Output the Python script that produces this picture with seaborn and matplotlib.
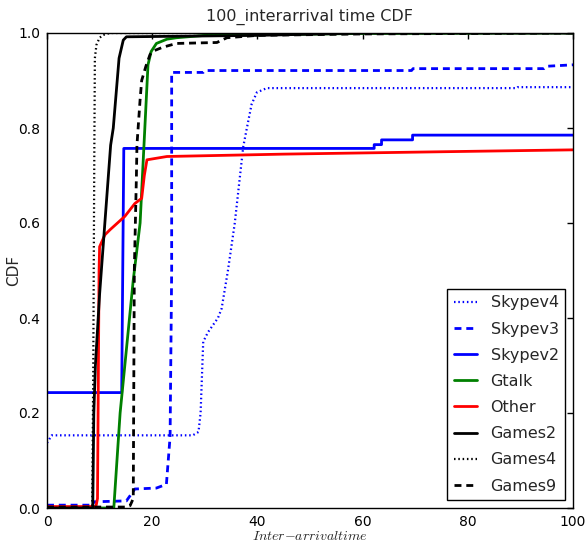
import numpy as np
import pandas as pd
import matplotlib
matplotlib.use("Agg")
import matplotlib.pyplot as plt
import seaborn as sns

# series
skypev4_x = [0, 0.9, 27.7, 28.8, 29.2, 29.7, 30.6, 32.5, 33.2, 34.4, 35.7, 36.7, 37.3, 38.0, 38.9, 39.9, 41.8, 89.3, 89.5, 100]
skypev4_y = [0.137, 0.153, 0.153, 0.16, 0.2, 0.35, 0.37, 0.40, 0.42, 0.5, 0.6, 0.7, 0.76, 0.8, 0.85, 0.875, 0.884, 0.884, 0.886, 0.886]

skypev3_x = [0, 8.8, 8.8, 15.1, 16.7, 20.8, 22.0, 22.7, 23.4, 23.7, 23.7, 29.7, 30.0, 69.3, 69.6, 94.5, 95.0, 100]
skypev3_y = [0.006, 0.006, 0.013, 0.015, 0.04, 0.042, 0.047, 0.05, 0.15, 0.5, 0.917, 0.917, 0.921, 0.921, 0.925, 0.925, 0.93, 0.933]

skypev2_x = [0, 14.2, 14.6, 62.2, 62.2, 63.6, 63.6, 69.5, 69.5, 100]
skypev2_y = [0.243, 0.243, 0.757, 0.757, 0.765, 0.765, 0.775, 0.775, 0.785, 0.785]

gtalk_x = [0, 12.7, 13.9, 16.4, 17.7, 18.6, 19.2, 19.8, 20.8, 22.8, 24.6, 30, 60, 100]
gtalk_y = [0.0, 0.0, 0.2, 0.48, 0.6, 0.8, 0.933, 0.961, 0.978, 0.987, 0.99, 0.995, 0.999, 1.0]

other_x = [0, 9.3, 9.6, 9.9, 10.0, 11.0, 12.0, 14.8, 16.7, 18.0, 18.5, 19.0, 22.8, 45, 75, 100]
other_y = [0.003, 0.003, 0.02, 0.5, 0.55, 0.575, 0.586, 0.614, 0.641, 0.652, 0.70, 0.733, 0.74, 0.745, 0.75, 0.754]

games2_x = [0, 8.7, 8.9, 9.2, 10.0, 11.0, 12.1, 12.6, 13.7, 14.5, 15.1, 40, 60, 100]
games2_y = [0.0, 0.0, 0.2, 0.3, 0.45, 0.6, 0.764, 0.8, 0.947, 0.985, 0.992, 0.995, 1.0, 1.0]

games4_x = [0, 8.6, 8.8, 9.0, 9.1, 9.4, 10.0, 10.7, 12.0, 100]
games4_y = [0.0, 0.0, 0.3, 0.76, 0.947, 0.975, 0.99, 0.996, 1.0, 1.0]

games9_x = [0, 15.1, 15.8, 16.4, 16.6, 17.0, 17.1, 17.7, 18.0, 18.8, 19.6, 20.2, 22.0, 24.6, 32.3, 34.2, 40, 60, 100]
games9_y = [0.002, 0.002, 0.005, 0.02, 0.5, 0.7, 0.764, 0.86, 0.9, 0.93, 0.955, 0.962, 0.97, 0.978, 0.98, 0.99, 0.995, 0.998, 1.0]

labels = ["Skypev4", "Skypev3", "Skypev2", "Gtalk", "Other", "Games2", "Games4", "Games9"]
colors = ["blue", "blue", "blue", "green", "red", "black", "black", "black"]
styles = [":", "--", "-", "-", "-", "-", ":", "--"]

series = [(skypev4_x, skypev4_y), (skypev3_x, skypev3_y), (skypev2_x, skypev2_y),
          (gtalk_x, gtalk_y), (other_x, other_y), (games2_x, games2_y),
          (games4_x, games4_y), (games9_x, games9_y)]

sns.set_style("white")
plt.rcParams['font.family'] = ['DejaVu Sans']
plt.rcParams['mathtext.fontset'] = 'cm'
plt.rcParams['lines.scale_dashes'] = False
plt.rcParams['lines.dotted_pattern'] = [1.1, 2.0]
plt.rcParams['lines.dashed_pattern'] = [5.0, 3.5]

fig = plt.figure(figsize=(5.86, 5.44), dpi=100)
ax = fig.add_axes([47/586, 36/544, 526/586, 475/544])

for (xs, ys), lab, col, ls in zip(series, labels, colors, styles):
    df = pd.DataFrame({"x": xs, "y": ys})
    lw = 1.6 if ls == ":" else 2
    sns.lineplot(data=df, x="x", y="y", ax=ax, sort=False, estimator=None,
                 color=col, linestyle=ls, linewidth=lw, label=lab)

ax.set_xlim(0, 100)
ax.set_ylim(0, 1.0)
ax.set_xticks([0, 20, 40, 60, 80, 100])
ax.set_yticks([0.0, 0.2, 0.4, 0.6, 0.8, 1.0])
ax.set_yticklabels(["0.0", "0.2", "0.4", "0.6", "0.8", "1.0"])
ax.tick_params(direction="in", top=True, right=True, length=4, width=1,
               labelsize=10, colors="black", pad=5)
for sp in ax.spines.values():
    sp.set_color("black")
    sp.set_linewidth(1)

ax.set_title("100_interarrival time CDF", fontsize=11.5, pad=9)
ax.set_xlabel(r"$Inter{-}arrival time$", fontsize=10, labelpad=0)
ax.set_ylabel("CDF", fontsize=11)
ax.yaxis.set_label_coords(-0.05, 0.5)

leg = ax.legend(loc="lower right", fontsize=11.5, fancybox=False, framealpha=1,
                edgecolor="black", handlelength=1.45, handletextpad=0.85,
                labelspacing=0.7, borderaxespad=0.5)
leg.get_frame().set_linewidth(1)

fig.savefig("out.png", dpi=100)
